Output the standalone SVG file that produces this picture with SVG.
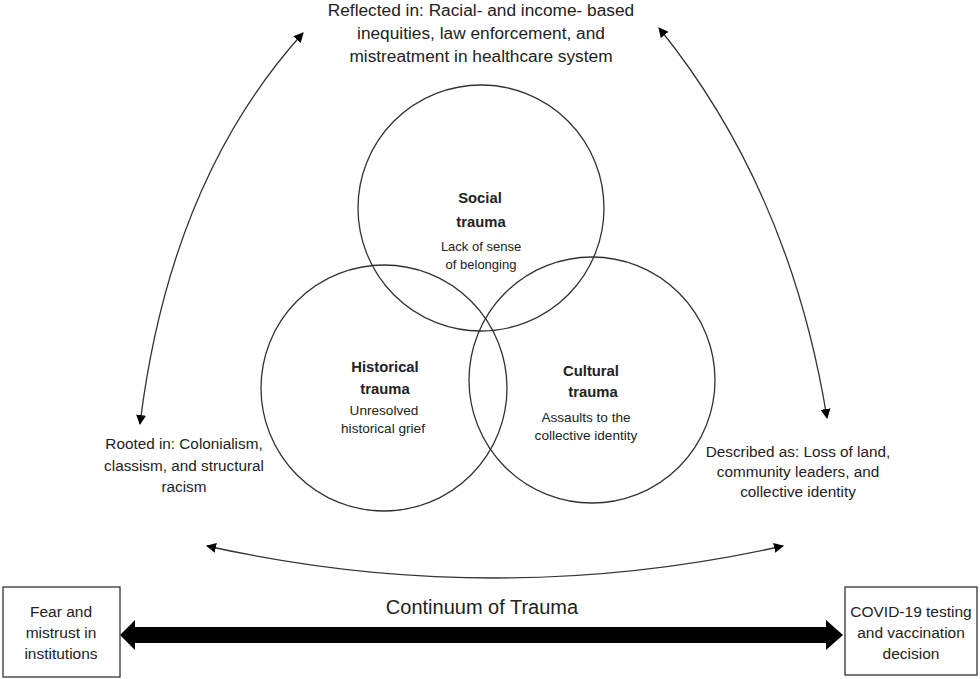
<svg xmlns="http://www.w3.org/2000/svg" width="980" height="679" viewBox="0 0 980 679">
<defs>
<style>
text{font-family:"Liberation Sans",Arial,sans-serif;fill:#222;text-anchor:middle}
.lbl{font-size:15.3px}
.ttl{font-size:17.3px}
.boxt{font-size:15.5px}
.sm{font-size:13.6px}
.ss{font-size:13px}
.b{font-size:14.8px;font-weight:bold}
.circ{fill:none;stroke:#333;stroke-width:1.3}
.box{fill:#fff;stroke:#333;stroke-width:1.3}
.con{fill:none;stroke:#333;stroke-width:1.3}
</style>
<marker id="ah" viewBox="0 0 10 10" refX="9" refY="5" markerWidth="10" markerHeight="10" markerUnits="userSpaceOnUse" orient="auto-start-reverse">
<path d="M0,0 L10,5 L0,10 z" fill="#000"/>
</marker>
</defs>
<rect width="980" height="679" fill="#fff"/>

<g id="connectors">
<path class="con" d="M140,424 Q170,180 303,33" marker-start="url(#ah)" marker-end="url(#ah)"/>
<path class="con" d="M659,28 Q790,190 827,418" marker-start="url(#ah)" marker-end="url(#ah)"/>
<path class="con" d="M207,546 Q495,610 783,546" marker-start="url(#ah)" marker-end="url(#ah)"/>
<path d="M120,635 L135,620 L135,627 L826,627 L826,620 L843,635 L826,650 L826,643 L135,643 L135,650 Z" fill="#000"/>
</g>

<g id="social">
<circle class="circ" cx="481" cy="208" r="123"/>
<text class="b" x="480" y="203">Social</text>
<text class="b" x="481" y="227">trauma</text>
<text class="ss" x="481" y="251">Lack of sense</text>
<text class="ss" x="481" y="269">of belonging</text>
</g>

<g id="historical">
<circle class="circ" cx="384" cy="388" r="123"/>
<text class="b" x="385" y="372">Historical</text>
<text class="b" x="385" y="394">trauma</text>
<text class="sm" x="384" y="415">Unresolved</text>
<text class="sm" x="383" y="433">historical grief</text>
</g>

<g id="cultural">
<circle class="circ" cx="592" cy="380" r="123"/>
<text class="b" x="591" y="376">Cultural</text>
<text class="b" x="593" y="397">trauma</text>
<text class="sm" x="586" y="422">Assaults to the</text>
<text class="sm" x="586" y="440">collective identity</text>
</g>

<g id="reflected">
<text class="ttl" x="481" y="16">Reflected in: Racial- and income- based</text>
<text class="ttl" x="481" y="39">inequities, law enforcement, and</text>
<text class="ttl" x="481" y="62">mistreatment in healthcare system</text>
</g>

<g id="rooted">
<text class="lbl" x="184" y="449">Rooted in: Colonialism,</text>
<text class="lbl" x="184" y="471">classism, and structural</text>
<text class="lbl" x="184" y="492">racism</text>
</g>

<g id="described">
<text class="lbl" x="798" y="457">Described as: Loss of land,</text>
<text class="lbl" x="798" y="477">community leaders, and</text>
<text class="lbl" x="798" y="497">collective identity</text>
</g>

<g id="fear">
<rect class="box" x="3" y="587" width="117" height="90"/>
<text class="boxt" x="61" y="617">Fear and</text>
<text class="boxt" x="61" y="638">mistrust in</text>
<text class="boxt" x="61" y="659">institutions</text>
</g>

<g id="covid">
<rect class="box" x="845" y="587" width="132" height="88"/>
<text class="boxt" x="911" y="617">COVID-19 testing</text>
<text class="boxt" x="911" y="638">and vaccination</text>
<text class="boxt" x="911" y="659">decision</text>
</g>

<g id="continuum">
<text x="482" y="614" style="font-size:20px">Continuum of Trauma</text>
</g>
</svg>
